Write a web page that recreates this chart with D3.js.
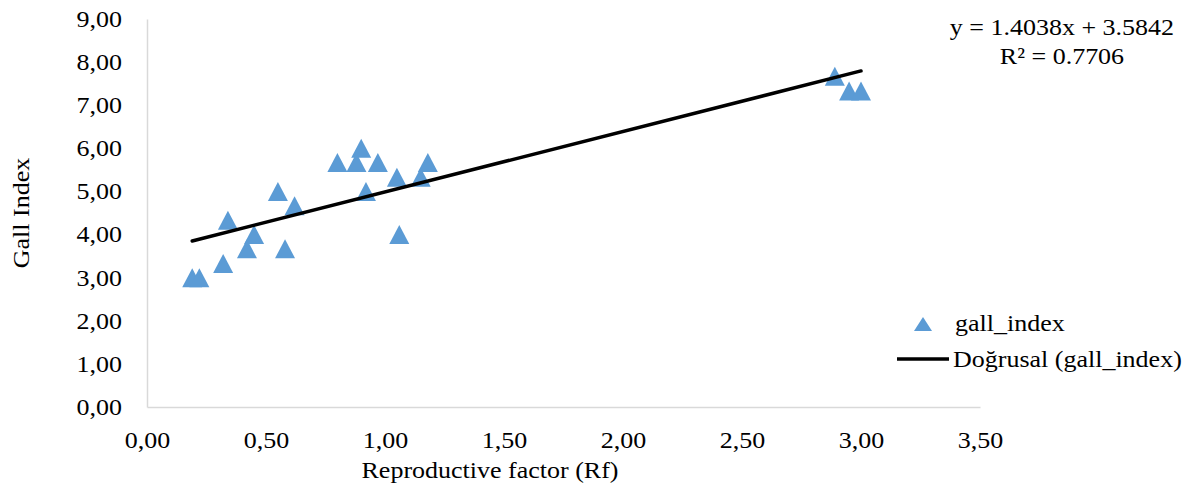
<!DOCTYPE html>
<html lang="en">
<head>
  <meta charset="UTF-8">
  <title>Gall Index vs Reproductive factor</title>
  <script src="https://d3js.org/d3.v7.min.js"></script>
  <style>
    body { margin: 0; background: #fff; }
    text { font-family: "Liberation Serif", "Times New Roman", serif; fill: #000; }
  </style>
</head>
<body>
<div id="chart"></div>
<script>
// data
const rf = [0.19, 0.22, 0.32, 0.34, 0.42, 0.45, 0.55, 0.58, 0.62, 0.80, 0.88, 0.90, 0.92, 0.97, 1.05, 1.06, 1.15, 1.18, 2.89, 2.95, 3.00];
const gallIndex = [3.00, 3.00, 3.33, 4.33, 3.67, 4.00, 5.00, 3.67, 4.67, 5.67, 5.67, 6.00, 5.00, 5.67, 5.33, 4.00, 5.33, 5.67, 7.67, 7.33, 7.33];
const xTicks = [0, 0.5, 1, 1.5, 2, 2.5, 3, 3.5];
const yTicks = [0, 1, 2, 3, 4, 5, 6, 7, 8, 9];
// trendline coefficients as printed on the chart
const slope = 1.4038, intercept = 3.5842, r2 = 0.7706;

const width = 1197, height = 499;
const margin = { top: 19, right: 217, bottom: 92, left: 147 };
const fontSize = "23px";

const svg = d3.select("#chart").append("svg")
  .attr("width", width)
  .attr("height", height);

const x = d3.scaleLinear().domain([0, 3.5]).range([margin.left, width - margin.right]);
const y = d3.scaleLinear().domain([0, 9]).range([height - margin.bottom, margin.top]);

const fmt = d => d3.format(".2f")(d).replace(".", ",");

// axes
const xAxis = svg.append("g")
  .attr("transform", `translate(0,${height - margin.bottom})`)
  .call(d3.axisBottom(x).tickValues(xTicks).tickFormat(fmt).tickSize(0).tickPadding(41));
const yAxis = svg.append("g")
  .attr("transform", `translate(${margin.left},0)`)
  .call(d3.axisLeft(y).tickValues(yTicks).tickFormat(fmt).tickSize(0).tickPadding(25));

[xAxis, yAxis].forEach(g => {
  g.attr("font-family", null).attr("font-size", null);
  g.select(".domain").attr("stroke", "#d9d9d9").attr("stroke-width", 1.5);
  g.selectAll("text").style("font-size", fontSize);
});
xAxis.selectAll("text").attr("dy", "0");
yAxis.selectAll("text").attr("dy", "0.32em");

// axis titles
svg.append("text")
  .attr("x", 490)
  .attr("y", 478)
  .attr("text-anchor", "middle")
  .style("font-size", fontSize)
  .text("Reproductive factor (Rf)");

svg.append("text")
  .attr("transform", `translate(29,${(margin.top + height - margin.bottom) / 2}) rotate(-90)`)
  .attr("text-anchor", "middle")
  .style("font-size", fontSize)
  .text("Gall Index");

// triangle marker
function tri(w, h) {
  return `M0,${-h / 2}L${w / 2},${h / 2}L${-w / 2},${h / 2}Z`;
}

const points = rf.map((v, i) => ({ x: v, y: gallIndex[i] }));

svg.append("g").selectAll("path")
  .data(points)
  .enter()
  .append("path")
  .attr("d", tri(20, 19))
  .attr("transform", d => `translate(${x(d.x)},${y(d.y)})`)
  .attr("fill", "#5b9bd5");

// linear trendline across the data range
const xMin = d3.min(rf), xMax = d3.max(rf);
svg.append("line")
  .attr("x1", x(xMin)).attr("y1", y(slope * xMin + intercept))
  .attr("x2", x(xMax)).attr("y2", y(slope * xMax + intercept))
  .attr("stroke", "#000")
  .attr("stroke-width", 3.5)
  .attr("stroke-linecap", "round");

// equation
svg.append("text")
  .attr("x", 1062).attr("y", 35)
  .attr("text-anchor", "middle")
  .style("font-size", fontSize)
  .text(`y = ${slope}x + ${intercept}`);
svg.append("text")
  .attr("x", 1062).attr("y", 64)
  .attr("text-anchor", "middle")
  .style("font-size", fontSize)
  .text(`R² = ${r2}`);

// legend
const legend = svg.append("g");
legend.append("path")
  .attr("d", tri(18, 14))
  .attr("transform", "translate(923,324)")
  .attr("fill", "#5b9bd5");
legend.append("text")
  .attr("x", 955).attr("y", 331)
  .style("font-size", fontSize)
  .text("gall_index");
legend.append("line")
  .attr("x1", 897).attr("x2", 949)
  .attr("y1", 359).attr("y2", 359)
  .attr("stroke", "#000")
  .attr("stroke-width", 3.5);
legend.append("text")
  .attr("x", 953).attr("y", 367)
  .style("font-size", fontSize)
  .text("Doğrusal (gall_index)");

// the reference text is a bit wider than the font, stretch it
svg.selectAll("text").each(function() {
  const len = this.getComputedTextLength();
  this.setAttribute("textLength", len * 1.13);
  this.setAttribute("lengthAdjust", "spacingAndGlyphs");
});
</script>
</body>
</html>
